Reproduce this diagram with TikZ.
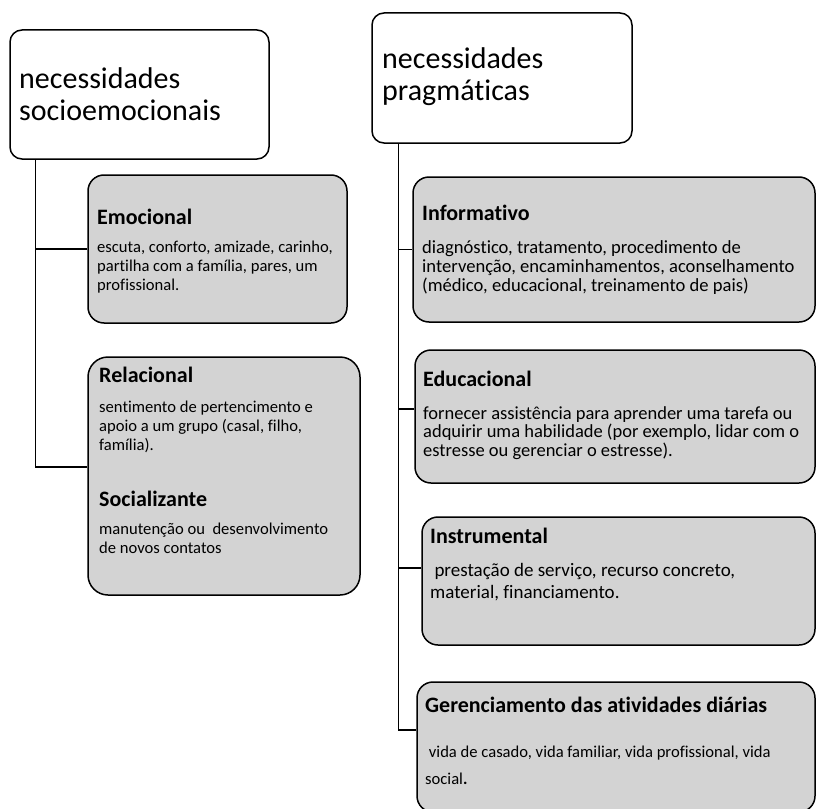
\documentclass[tikz,border=0pt]{standalone}
\usepackage{fontspec}
\setmainfont{Carlito}[Ligatures=NoCommon]
\usepackage{tikz}
\usetikzlibrary{positioning, calc}
\definecolor{boxgray}{RGB}{211, 211, 211}
\newcommand{\bodysize}[2]{\fontsize{#1}{#2}\selectfont}

\begin{document}
\begin{tikzpicture}[
    x=1pt, y=-1pt,
    headbox/.style={draw, rounded corners=12pt, line width=1.5pt, fill=white, inner sep=0pt},
    needbox/.style={draw, rounded corners=16pt, line width=1.5pt, fill=boxgray, inner sep=0pt},
    headtext/.style={anchor=base west, inner sep=0pt, align=left, font=\fontsize{30}{32}\selectfont},
    needtitle/.style={anchor=base west, inner sep=0pt, font=\bfseries\fontsize{22}{26}\selectfont},
    needtext/.style={anchor=base west, inner sep=0pt, align=left},
    link/.style={line width=1.5pt}
]
    \useasboundingbox (0,0) rectangle (816,808);

    % header boxes (texts placed by the baseline of their last line)
    \node[headbox, minimum width=259pt, minimum height=129pt] (lhead) at (139.5,94.5) {};
    \node[headbox, minimum width=260pt, minimum height=130pt] (rhead) at (502,78) {};
    \node[headtext] (lheadtxt) at (19,120) {necessidades\\socioemocionais};
    \node[headtext] (rheadtxt) at (382,100) {necessidades\\pragmáticas};

    % left column
    \node[needbox, minimum width=259pt, minimum height=148pt] (emo) at (217.5,249) {};
    \node[needbox, minimum width=272pt, minimum height=238pt, rounded corners=20pt] (rel) at (224,476) {};

    \node[needtitle] (emotitle) at (97,224) {Emocional};
    \node[needtext, font=\bodysize{16.6}{19}] (emotxt) at (97,290) {escuta, conforto, amizade, carinho,\\partilha com a família, pares, um\\profissional.};
    \node[needtitle] (reltitle) at (99,382) {Relacional};
    \node[needtext, font=\bodysize{16.6}{19}] (reltxt) at (99,450) {sentimento de pertencimento e\\apoio a um grupo (casal, filho,\\família).};
    \node[needtitle] (soctitle) at (99,506) {Socializante};
    \node[needtext, font=\bodysize{16.6}{19}] (soctxt) at (99,553) {manutenção ou\ \ desenvolvimento\\de novos contatos};

    % right column
    \node[needbox, minimum width=402pt, minimum height=145pt] (info) at (614,249.5) {};
    \node[needbox, minimum width=400pt, minimum height=133pt] (edu) at (615,416.5) {};
    \node[needbox, minimum width=393pt, minimum height=128pt] (inst) at (618.5,581) {};
    \node[needbox, minimum width=398pt, minimum height=130pt] (daily) at (616,747) {};

    \node[needtitle] (infotitle) at (422,220) {Informativo};
    \node[needtext, font=\bodysize{18.6}{19}] (infotxt) at (422,291) {diagnóstico, tratamento, procedimento de\\intervenção, encaminhamentos, aconselhamento\\(médico, educacional, treinamento de pais)};
    \node[needtitle] (edutitle) at (423,386) {Educacional};
    \node[needtext, font=\bodysize{18.5}{18.5}] (edutxt) at (423,456) {fornecer assistência para aprender uma tarefa ou\\adquirir uma habilidade (por exemplo, lidar com o\\estresse ou gerenciar o estresse).};
    \node[needtitle] (insttitle) at (430,543) {Instrumental};
    \node[needtext, font=\bodysize{19}{22}] (insttxt) at (430,598) {\ prestação de serviço, recurso concreto,\\material, financiamento.};
    \node[needtitle] (dailytitle) at (425,712) {Gerenciamento das atividades diárias};
    \node[needtext, font=\bodysize{16.6}{27}] (dailytxt) at (425,784) {\ vida de casado, vida familiar, vida profissional, vida\\social\textbf{.}};

    % connectors
    \coordinate (lspine) at ([xshift=26pt]lhead.south west);
    \coordinate (rspine) at ([xshift=27pt]rhead.south west);
    \draw[link] (lspine) |- ([yshift=9pt]rel.west);
    \draw[link] (emo.west) -- (emo.west -| lspine);
    \draw[link] (rspine) |- ([yshift=17pt]daily.west);
    \draw[link] (info.west) -- (info.west -| rspine);
    \draw[link] ([yshift=7.5pt]edu.west) -- ([yshift=7.5pt]edu.west -| rspine);
    \draw[link] ([yshift=13pt]inst.west) -- ([yshift=13pt]inst.west -| rspine);
\end{tikzpicture}
\end{document}
